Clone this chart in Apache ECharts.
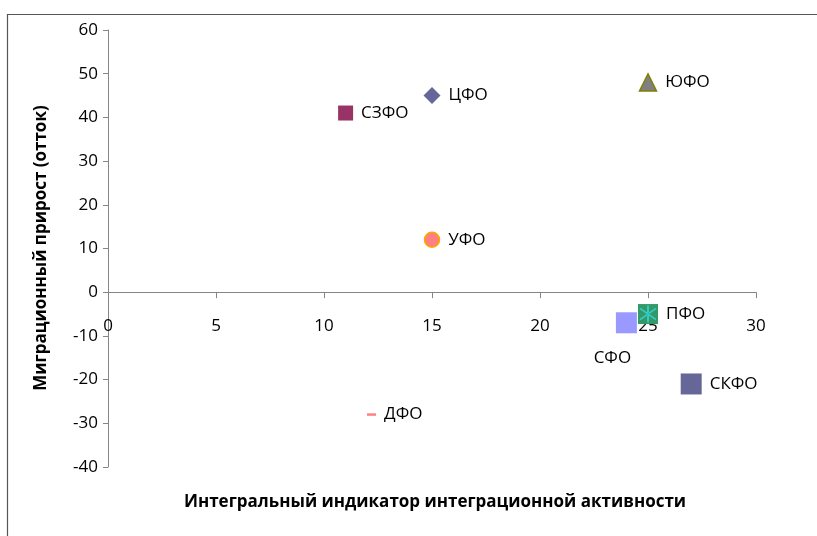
<!DOCTYPE html>
<html><head><meta charset="utf-8">
<script src="https://cdn.jsdelivr.net/npm/echarts@6/dist/echarts.min.js"></script>
<style>html,body{margin:0;padding:0;background:#fff}#c{width:817px;height:536px}</style>
</head><body><div id="c"></div>
<script>
const regions = ['ЦФО','СЗФО','ЮФО','УФО','ПФО','СФО','СКФО','ДФО'];
const xValues = [15, 11, 25, 15, 25, 24, 27, 12.2];
const yValues = [45, 41, 48, 12, -5, -7, -21, -28];
const xTicks = [0, 5, 10, 15, 20, 25, 30];
const yTicks = [-40, -30, -20, -10, 0, 10, 20, 30, 40, 50, 60];

const FONT = '"Open Sans", "Noto Sans", sans-serif';
const asterisk = 'path://M-1,-10 L1,-10 L1,10 L-1,10 Z M-8.7,-5.8 L-7.7,-7.3 L8.7,5.8 L7.7,7.3 Z M-8.7,5.8 L-7.7,7.3 L8.7,-5.8 L7.7,-7.3 Z';

const styles = {
  'ЦФО': {symbol:'diamond', size:17, color:'#666699'},
  'СЗФО': {symbol:'rect', size:15, color:'#993366'},
  'ЮФО': {symbol:'triangle', size:17, color:'#808080', border:'#808000', bw:1.5},
  'УФО': {symbol:'circle', size:15, color:'#FF8080', border:'#FFA500', bw:1.5},
  'ПФО': {symbol:'rect', size:20, color:'#339966'},
  'СФО': {symbol:'rect', size:21, color:'#9999FF', label:{position:'bottom', offset:[-14, 8]}},
  'СКФО': {symbol:'rect', size:21, color:'#666699'},
  'ДФО': {symbol:'rect', size:[9,2.5], color:'#FF8080'}
};

const series = regions.map((r, i) => {
  const s = styles[r];
  return {
    name: r, type: 'scatter',
    symbol: s.symbol, symbolSize: s.size,
    data: [[xValues[i], yValues[i]]],
    itemStyle: {color: s.color, borderColor: s.border || s.color, borderWidth: s.bw || 0, opacity: 1},
    label: Object.assign({show: true, formatter: r, position: 'right', distance: 8,
      color: '#000', fontSize: 17, fontFamily: FONT}, s.label || {}),
    z: 3
  };
});
const pi = regions.indexOf('ПФО');
series.push({
  name: 'ПФО*', type: 'scatter', symbol: asterisk, symbolSize: 17,
  data: [[xValues[pi], yValues[pi]]],
  itemStyle: {color: '#33CCCC', opacity: 1}, z: 4, silent: true
});

const gridTop = 30, gridBottom = 69, H = 536;
const gridH = H - gridTop - gridBottom;
const yMin = yTicks[0], yMax = yTicks[yTicks.length-1];
const zeroFromBottom = gridH * (0 - yMin) / (yMax - yMin);

const chart = echarts.init(document.getElementById('c'), null, {renderer: 'canvas'});
chart.setOption({
  animation: false,
  backgroundColor: '#fff',
  grid: {left: 108, right: 61, top: gridTop, bottom: gridBottom},
  xAxis: {
    type: 'value', min: xTicks[0], max: xTicks[xTicks.length-1], interval: 5,
    position: 'bottom', offset: -zeroFromBottom,
    axisLine: {onZero: false, lineStyle: {color: '#868686', width: 1}},
    axisTick: {show: true, inside: false, length: 6, lineStyle: {color: '#868686'}},
    axisLabel: {color: '#000', fontSize: 17, fontFamily: FONT, margin: 25},
    splitLine: {show: false}
  },
  yAxis: {
    type: 'value', min: yMin, max: yMax, interval: 10,
    axisLine: {show: true, onZero: false, lineStyle: {color: '#868686', width: 1}},
    axisTick: {show: true, length: 5, lineStyle: {color: '#868686'}},
    axisLabel: {color: '#000', fontSize: 17, fontFamily: FONT, margin: 10},
    splitLine: {show: false}
  },
  graphic: [
    {type: 'rect', left: 5, top: 12, shape: {width: 900, height: 600},
     style: {fill: 'none', stroke: '#555', lineWidth: 1.2}, z: -1, silent: true},
    {type: 'text', position: [435, 494],
     style: {text: 'Интегральный индикатор интеграционной активности', fill: '#000',
       font: 'bold 17px ' + FONT, textAlign: 'center'}},
    {type: 'text', rotation: Math.PI/2, position: [41, 248],
     style: {text: 'Миграционный прирост (отток)', fill: '#000',
       font: 'bold 17px ' + FONT, textAlign: 'center', textVerticalAlign: 'middle'}}
  ],
  series: series
});
</script></body></html>
